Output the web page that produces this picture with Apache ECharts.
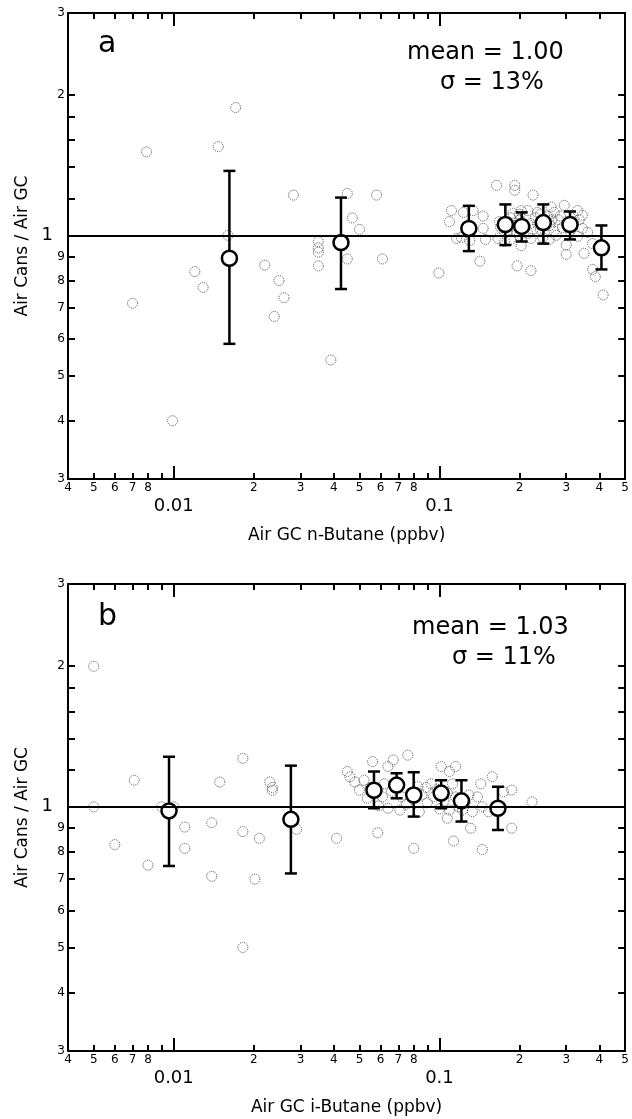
<!DOCTYPE html>
<html>
<head>
<meta charset="utf-8">
<script src="https://cdn.jsdelivr.net/npm/echarts@6/dist/echarts.min.js"></script>
<style>
  html, body { margin: 0; padding: 0; background: #fff; }
  #chart { width: 632px; height: 1119px; }
</style>
</head>
<body>
<div id="chart"></div>
<script>
// ---- Panel a: n-butane, canister / in-situ GC ratio ----
const nButaneX = [
  0.0079, 0.0147, 0.0171, 0.0282, 0.016, 0.045, 0.058, 0.047, 0.050,
  0.035, 0.035, 0.035, 0.035, 0.0120, 0.0129, 0.022, 0.0249, 0.026, 0.0239,
  0.045, 0.061, 0.039, 0.0070, 0.0099,
  0.0995, 0.142, 0.196, 0.221, 0.30, 0.30, 0.35, 0.377, 0.386, 0.413,
  0.164, 0.192, 0.192, 0.225, 0.111, 0.109, 0.123, 0.134, 0.146, 0.116,
  0.130, 0.149, 0.166, 0.176, 0.168, 0.189, 0.203, 0.215, 0.234, 0.263,
  0.295, 0.331, 0.345, 0.336, 0.345, 0.361, 0.331, 0.377, 0.203, 0.259,
  0.146, 0.185, 0.221, 0.121,
  0.19, 0.20, 0.21, 0.22, 0.23, 0.24, 0.25, 0.26, 0.27, 0.28, 0.29, 0.30,
  0.31, 0.215, 0.245, 0.275, 0.18, 0.20,
  0.17, 0.185, 0.195, 0.205, 0.225, 0.235, 0.255, 0.265, 0.285, 0.24, 0.20,
  0.32, 0.27
];
const nButaneRatio = [
  1.51, 1.55, 1.88, 1.22, 1.00, 1.23, 1.22, 1.09, 1.03,
  0.97, 0.94, 0.92, 0.86, 0.836, 0.773, 0.863, 0.80, 0.735, 0.67,
  0.89, 0.89, 0.54, 0.715, 0.40,
  0.83, 0.88, 0.86, 0.84, 0.953, 0.91, 0.915, 0.845, 0.815, 0.745,
  1.28, 1.28, 1.25, 1.22, 1.13, 1.07, 1.12, 1.13, 1.10, 0.985,
  0.975, 0.98, 0.985, 0.97, 1.07, 1.115, 1.13, 1.13, 1.12, 1.15,
  1.16, 1.13, 1.105, 1.08, 1.035, 1.015, 0.995, 0.96, 0.95, 0.98,
  1.035, 0.98, 0.985, 0.99,
  1.05, 1.08, 1.04, 1.06, 1.09, 1.03, 1.07, 1.05, 1.02, 1.08, 1.04, 1.06,
  1.02, 1.01, 0.99, 1.00, 1.02, 1.00,
  1.04, 1.09, 1.02, 1.06, 1.03, 1.06, 1.10, 1.08, 1.10, 1.11, 1.11,
  1.07, 1.12
];
// binned means with error bars
const nButaneBinX    = [0.0162, 0.0426, 0.129, 0.177, 0.204, 0.246, 0.310, 0.407];
const nButaneBinMean = [0.893, 0.965, 1.035, 1.055, 1.045, 1.065, 1.055, 0.940];
const nButaneBinLow  = [0.585, 0.767, 0.925, 0.953, 0.970, 0.960, 0.980, 0.845];
const nButaneBinHigh = [1.375, 1.205, 1.157, 1.165, 1.120, 1.165, 1.125, 1.050];

// ---- Panel b: i-butane ----
const iButaneX = [
  0.005, 0.005, 0.0071, 0.009, 0.010, 0.0149, 0.0182, 0.023, 0.0235, 0.0235,
  0.0060, 0.0080, 0.011, 0.011, 0.0139, 0.0139, 0.0182, 0.021, 0.0202, 0.0182,
  0.029, 0.041, 0.0586, 0.080, 0.113, 0.145, 0.131, 0.187, 0.223,
  0.056, 0.067, 0.064, 0.076, 0.045, 0.046, 0.048, 0.052, 0.050, 0.0535,
  0.061, 0.064, 0.071, 0.084, 0.083, 0.089, 0.093, 0.1015, 0.109, 0.115,
  0.112, 0.107, 0.109, 0.107, 0.122, 0.129, 0.133, 0.143, 0.139, 0.158,
  0.153, 0.174, 0.187, 0.059, 0.075, 0.078, 0.095, 0.066, 0.118, 0.145,
  0.055, 0.062, 0.072, 0.086, 0.098, 0.104, 0.115, 0.125, 0.100, 0.090
];
const iButaneRatio = [
  2.00, 1.00, 1.14, 1.00, 1.00, 1.13, 1.27, 1.13, 1.10, 1.085,
  0.83, 0.75, 0.905, 0.815, 0.925, 0.71, 0.885, 0.856, 0.70, 0.50,
  0.895, 0.856, 0.88, 0.815, 0.845, 0.81, 0.90, 0.90, 1.025,
  1.25, 1.26, 1.22, 1.29, 1.19, 1.16, 1.13, 1.14, 1.086, 1.043,
  1.05, 0.993, 0.984, 0.976, 1.104, 1.10, 1.12, 1.22, 1.19, 1.22,
  1.12, 1.07, 0.984, 0.945, 0.984, 1.06, 0.976, 1.12, 1.05, 1.16,
  0.976, 1.077, 1.086, 1.005, 1.013, 1.07, 1.05, 1.08, 1.00, 1.00,
  1.10, 1.12, 1.05, 1.06, 1.09, 1.03, 1.05, 1.02, 0.99, 1.02
];
const iButaneBinX    = [0.0096, 0.0276, 0.0567, 0.069, 0.080, 0.1015, 0.121, 0.166];
const iButaneBinMean = [0.980, 0.940, 1.085, 1.113, 1.060, 1.070, 1.030, 0.993];
const iButaneBinLow  = [0.747, 0.720, 0.993, 1.043, 0.953, 0.993, 0.930, 0.892];
const iButaneBinHigh = [1.280, 1.225, 1.190, 1.180, 1.186, 1.140, 1.140, 1.104];

// ---- axis ticks and labels ----
const xMinorTicks = [0.004, 0.005, 0.006, 0.007, 0.008, 0.009,
  0.02, 0.03, 0.04, 0.05, 0.06, 0.07, 0.08, 0.09, 0.2, 0.3, 0.4, 0.5];
const xMajorTicks = [0.01, 0.1];
const xLabelValues = [0.004, 0.005, 0.006, 0.007, 0.008, 0.01, 0.02, 0.03, 0.04,
  0.05, 0.06, 0.07, 0.08, 0.1, 0.2, 0.3, 0.4, 0.5];
const xLabelTexts = ['4', '5', '6', '7', '8', '0.01', '2', '3', '4',
  '5', '6', '7', '8', '0.1', '2', '3', '4', '5'];
const yTicks = [0.3, 0.4, 0.5, 0.6, 0.7, 0.8, 0.9, 1, 1.2, 1.4, 1.6, 1.8, 2, 3];
const yLabelValues = [0.3, 0.4, 0.5, 0.6, 0.7, 0.8, 0.9, 1, 2, 3];
const yLabelTexts = ['3', '4', '5', '6', '7', '8', '9', '1', '2', '3'];
const bigLabels = ['0.01', '0.1', '1'];

const panelLetters = ['a', 'b'];
const meanTexts = ['mean = 1.00', 'mean = 1.03'];
const sigmaTexts = ['σ = 13%', 'σ = 11%'];
const xTitles = ['Air GC n-Butane (ppbv)', 'Air GC i-Butane (ppbv)'];
const yTitle = 'Air Cans / Air GC';

const FONT = '"DejaVu Sans", "Liberation Sans", sans-serif';
const X_MIN = 0.004, X_MAX = 0.5, Y_MIN = 0.3, Y_MAX = 3;

function lookupLabel(values, texts, v) {
  for (let i = 0; i < values.length; i++) {
    if (Math.abs(Math.log10(v) - Math.log10(values[i])) < 1e-4) {
      const t = texts[i];
      return bigLabels.indexOf(t) >= 0 ? '{big|' + t + '}' : t;
    }
  }
  return '';
}

const grids = [
  { left: 68, top: 13, width: 560, height: 466 },
  { left: 68, top: 584, width: 560, height: 467 }
];

const xAxes = [];
const yAxes = [];
grids.forEach(function (g, gi) {
  const base = { type: 'log', logBase: 10, min: X_MIN, max: X_MAX, gridIndex: gi, splitLine: { show: false } };
  // bottom axis with labels and minor ticks
  xAxes.push(Object.assign({}, base, {
    position: 'bottom',
    axisLine: { show: true, onZero: false, lineStyle: { color: '#000', width: 2 } },
    axisTick: { show: true, inside: true, length: 6, customValues: xMinorTicks, lineStyle: { color: '#000', width: 2 } },
    axisLabel: {
      show: true, margin: 3, color: '#000', fontSize: 12, fontFamily: FONT,
      customValues: xLabelValues, hideOverlap: false,
      showMinLabel: true, showMaxLabel: true,
      formatter: function (v) { return lookupLabel(xLabelValues, xLabelTexts, v); },
      rich: { big: { fontSize: 18, fontFamily: FONT, color: '#000', padding: [15, 0, 0, 0] } }
    },
    name: xTitles[gi], nameLocation: 'middle', nameGap: 48,
    nameTextStyle: { fontSize: 17, fontFamily: FONT, color: '#000' }
  }));
  // bottom major ticks
  xAxes.push(Object.assign({}, base, {
    position: 'bottom',
    axisLine: { show: false, onZero: false },
    axisTick: { show: true, inside: true, length: 13, customValues: xMajorTicks, lineStyle: { color: '#000', width: 2 } },
    axisLabel: { show: false }
  }));
  // top frame with minor ticks
  xAxes.push(Object.assign({}, base, {
    position: 'top',
    axisLine: { show: true, onZero: false, lineStyle: { color: '#000', width: 2 } },
    axisTick: { show: true, inside: true, length: 6, customValues: xMinorTicks, lineStyle: { color: '#000', width: 2 } },
    axisLabel: { show: false }
  }));
  // top major ticks
  xAxes.push(Object.assign({}, base, {
    position: 'top',
    axisLine: { show: false, onZero: false },
    axisTick: { show: true, inside: true, length: 13, customValues: xMajorTicks, lineStyle: { color: '#000', width: 2 } },
    axisLabel: { show: false }
  }));

  const ybase = { type: 'log', logBase: 10, min: Y_MIN, max: Y_MAX, gridIndex: gi, splitLine: { show: false } };
  yAxes.push(Object.assign({}, ybase, {
    position: 'left',
    axisLine: { show: true, onZero: false, lineStyle: { color: '#000', width: 2 } },
    axisTick: { show: true, inside: true, length: 7, customValues: yTicks, lineStyle: { color: '#000', width: 2 } },
    axisLabel: {
      show: true, margin: 3, color: '#000', fontSize: 12, fontFamily: FONT,
      customValues: yLabelValues, hideOverlap: false,
      showMinLabel: true, showMaxLabel: true,
      formatter: function (v) { return lookupLabel(yLabelValues, yLabelTexts, v); },
      rich: { big: { fontSize: 18, fontFamily: FONT, color: '#000', padding: [0, 12, 0, 0] } }
    },
    name: yTitle, nameLocation: 'middle', nameGap: 34, nameRotate: 90,
    nameTextStyle: { fontSize: 17, fontFamily: FONT, color: '#000' }
  }));
  yAxes.push(Object.assign({}, ybase, {
    position: 'right',
    axisLine: { show: true, onZero: false, lineStyle: { color: '#000', width: 2 } },
    axisTick: { show: true, inside: true, length: 7, customValues: yTicks, lineStyle: { color: '#000', width: 2 } },
    axisLabel: { show: false }
  }));
});

function zip(a, b) { return a.map(function (v, i) { return [v, b[i]]; }); }
function zip3(a, b, c, d) { return a.map(function (v, i) { return [v, b[i], c[i], d[i]]; }); }

function errorBarRender(params, api) {
  const x = api.value(0);
  const top = api.coord([x, api.value(3)]);
  const bot = api.coord([x, api.value(2)]);
  const w = 6;
  const st = { stroke: '#000', lineWidth: 2.5 };
  return {
    type: 'group',
    children: [
      { type: 'line', shape: { x1: top[0], y1: top[1], x2: bot[0], y2: bot[1] }, style: st },
      { type: 'line', shape: { x1: top[0] - w, y1: top[1], x2: top[0] + w, y2: top[1] }, style: st },
      { type: 'line', shape: { x1: bot[0] - w, y1: bot[1], x2: bot[0] + w, y2: bot[1] }, style: st }
    ]
  };
}

const panels = [
  { x: nButaneX, y: nButaneRatio, bx: nButaneBinX, bm: nButaneBinMean, bl: nButaneBinLow, bh: nButaneBinHigh },
  { x: iButaneX, y: iButaneRatio, bx: iButaneBinX, bm: iButaneBinMean, bl: iButaneBinLow, bh: iButaneBinHigh }
];

const series = [];
panels.forEach(function (p, gi) {
  const xi = gi * 4, yi = gi * 2;
  series.push({
    type: 'scatter', xAxisIndex: xi, yAxisIndex: yi, z: 2,
    symbol: 'circle', symbolSize: 10, silent: true,
    itemStyle: { color: 'rgba(255,255,255,0)', borderColor: '#505050', borderWidth: 1, borderType: 'dotted', opacity: 1 },
    data: zip(p.x, p.y),
    markLine: {
      silent: true, symbol: 'none', label: { show: false },
      lineStyle: { color: '#000', width: 2, type: 'solid' },
      data: [{ yAxis: 1 }]
    }
  });
  series.push({
    type: 'custom', xAxisIndex: xi, yAxisIndex: yi, z: 3, silent: true,
    renderItem: errorBarRender,
    encode: { x: 0, y: [2, 3] },
    data: zip3(p.bx, p.bm, p.bl, p.bh)
  });
  series.push({
    type: 'scatter', xAxisIndex: xi, yAxisIndex: yi, z: 4,
    symbol: 'circle', symbolSize: 15, silent: true,
    itemStyle: { color: '#fff', borderColor: '#000', borderWidth: 2.5, opacity: 1 },
    data: zip(p.bx, p.bm)
  });
});

const textPos = [
  { letter: [98, 44], mean: [407, 53], sigma: [440, 83] },
  { letter: [98, 617], mean: [412, 628], sigma: [452, 658] }
];
const graphic = [];
textPos.forEach(function (tp, i) {
  graphic.push({ type: 'text', x: tp.letter[0], y: tp.letter[1], silent: true,
    style: { text: panelLetters[i], fontSize: 30, fontFamily: FONT, fill: '#000', verticalAlign: 'middle', align: 'left' } });
  graphic.push({ type: 'text', x: tp.mean[0], y: tp.mean[1], silent: true,
    style: { text: meanTexts[i], fontSize: 24, fontFamily: FONT, fill: '#000', verticalAlign: 'middle', align: 'left' } });
  graphic.push({ type: 'text', x: tp.sigma[0], y: tp.sigma[1], silent: true,
    style: { text: sigmaTexts[i], fontSize: 24, fontFamily: FONT, fill: '#000', verticalAlign: 'middle', align: 'left' } });
});

const chart = echarts.init(document.getElementById('chart'), null, { renderer: 'canvas' });
chart.setOption({
  animation: false,
  backgroundColor: '#fff',
  textStyle: { fontFamily: FONT },
  grid: grids,
  xAxis: xAxes,
  yAxis: yAxes,
  series: series,
  graphic: graphic
});
</script>
</body>
</html>
